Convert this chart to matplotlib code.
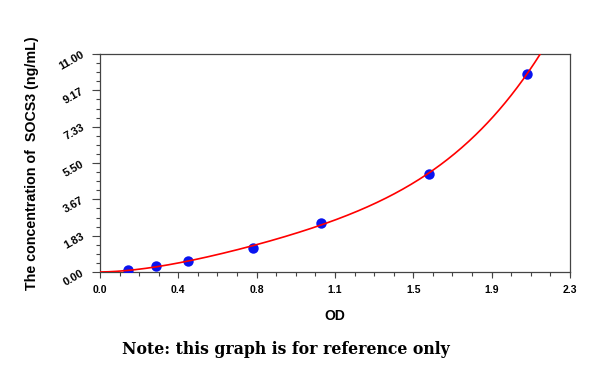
import numpy as np
import matplotlib
matplotlib.use("Agg")
import matplotlib.pyplot as plt
from matplotlib.ticker import FixedLocator, AutoMinorLocator
from matplotlib.transforms import ScaledTranslation

od = [0.139, 0.272, 0.432, 0.747, 1.082, 1.610, 2.090]
conc = [0.118, 0.286, 0.572, 1.194, 2.489, 4.962, 10.008]
xticks = [0.0, 0.3833, 0.7667, 1.15, 1.5333, 1.9167, 2.3]
xticklabels = ["0.0", "0.4", "0.8", "1.1", "1.5", "1.9", "2.3"]
yticks = [0.0, 1.833, 3.667, 5.5, 7.333, 9.167, 11.0]
yticklabels = ["0.00", "1.83", "3.67", "5.50", "7.33", "9.17", "11.00"]

plt.rcParams['font.family'] = ['Liberation Sans', 'DejaVu Sans']

fig = plt.figure(figsize=(6, 3.73), dpi=100)
ax = fig.add_axes([100/600, 1-272/373, 470/600, 218/373])

# fitted standard curve computed from the data (polynomial through the origin)
x_arr = np.array(od)
A = np.vstack([x_arr, x_arr**2, x_arr**3, x_arr**4]).T
c, *_ = np.linalg.lstsq(A, np.array(conc), rcond=None)
xf = np.linspace(0, 2.3, 400)
yf = c[0]*xf + c[1]*xf**2 + c[2]*xf**3 + c[3]*xf**4

ax.plot(od, conc, 'o', color='#0a14f0', markersize=7.5, zorder=3, markeredgewidth=0)
ax.plot(xf, yf, '-', color='#ff0000', linewidth=1.2, zorder=4)

ax.set_xlim(0, 2.3)
ax.set_ylim(0, 11)
ax.xaxis.set_major_locator(FixedLocator(xticks))
ax.yaxis.set_major_locator(FixedLocator(yticks))
ax.xaxis.set_minor_locator(AutoMinorLocator(4))
ax.yaxis.set_minor_locator(AutoMinorLocator(4))
ax.set_xticklabels(xticklabels, fontsize=7.5, fontweight='bold')
ax.set_yticklabels(yticklabels, fontsize=8, fontweight='bold', rotation=30,
                   rotation_mode='anchor', ha='right', va='center')
off = ScaledTranslation(0, -4/100, fig.dpi_scale_trans)
for lab in ax.get_yticklabels():
    lab.set_transform(lab.get_transform() + off)
ax.tick_params(axis='x', which='major', length=4.5, width=0.8, color='#444444', direction='out', pad=5)
ax.tick_params(axis='y', which='major', length=6, width=0.8, color='#444444', direction='out', pad=6)
ax.tick_params(axis='both', which='minor', length=3, width=0.8, color='#444444', direction='out')
for s in ax.spines.values():
    s.set_color('#444444')
    s.set_linewidth(0.9)

ax.set_xlabel('OD', fontsize=10, fontweight='bold')
ax.xaxis.set_label_coords(0.5, -(309-272)/218)
ax.set_ylabel('The concentration of  SOCS3 (ng/mL)', fontsize=10.3, fontweight='bold')
ax.yaxis.set_label_coords(-(100-39)/470, 0.5)

fig.text(286/600, 1-349/373, 'Note: this graph is for reference only', ha='center', va='center',
         fontsize=11.3, fontweight='bold', family=['DejaVu Serif'])

fig.savefig('out.png', dpi=100)
